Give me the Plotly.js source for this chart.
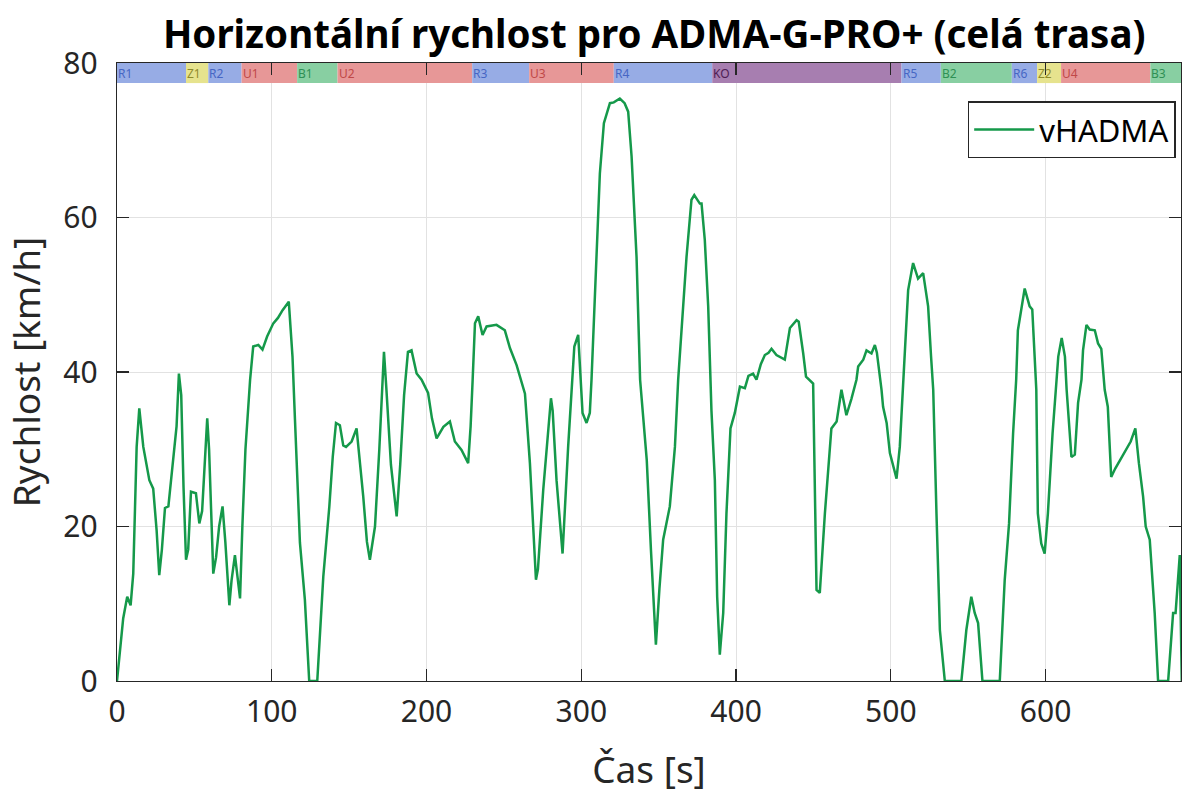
<!DOCTYPE html>
<html>
<head>
<meta charset="utf-8">
<script src="https://cdn.plot.ly/plotly-3.0.1.min.js"></script>
<style>html,body{margin:0;padding:0;background:#fff;}#chart{width:1183px;height:794px;}</style>
</head>
<body>
<div id="chart"></div>
<script>
// time [s]
const timeS = [0,4,6.6,8.8,10.5,12.7,14.4,17,20.9,23.4,25.6,27.3,29,31,33.2,36,38.5,40,41.5,43,44.6,46,47.8,51,53.2,55,57,58.3,59.5,61,62.2,64,66,68.2,70,72.6,74,76.2,77.5,79.5,81,83,86,88,91.3,94,97,101,104,107,111,113.4,115,118.2,121.4,124.2,129.4,133.3,137.2,139.4,141.5,144,146.2,148,151.6,154.8,159.1,161.5,163.4,166.7,169.5,172.5,174,177,180.7,183,185.5,188,190.3,193.6,196.8,200,201,203.5,206.5,210.9,215.1,218.3,222.6,226.9,228.5,229.8,231.3,233.4,236.2,238.8,245.2,250.6,253.9,258.2,262.5,263.6,266.8,270.7,272,275.4,280.4,281.5,284,287.9,291.5,294.4,295.5,298,300.2,300.8,303.4,305.5,306.6,309,312,314.6,318.5,321,324.9,328,330.3,332.5,335.7,338,342.3,345,348.2,350.5,352.9,357.2,360.5,362.6,365.5,368,371.2,373,376.6,377.7,379.8,382,384.1,386.3,387.8,389.5,391.7,393.8,396.4,399.2,402.5,405.7,408,411,413.2,416,418.6,421,422.9,426.1,431.5,434.8,439.1,440.5,443.4,445.2,449.8,450.9,452,454.1,457.4,461.6,465,468.1,471.3,474.5,477.8,478.9,482.2,484.3,487.5,489.7,491,494,495,497.3,499.4,502,503.7,505.8,508,511.2,514.4,517.6,520.9,524.1,526,527.4,529.5,531.7,534.9,545.6,548.8,552,554.2,556.4,559.2,570.4,573.6,576.4,579,581,582.1,586.5,589.7,591.4,594,595,597.2,599.4,601.5,604.5,607.1,608.2,610.4,612.5,613.6,615.6,616.7,618.9,621,623.2,624.2,626.4,628.5,631.8,633.9,636,638.2,640.2,642.4,645,650,655,658,660.3,663,664.7,667.3,670.5,672.7,679.2,682.4,684,686.7,688];
// horizontal speed [km/h]
const vHADMA = [0,8.1,10.9,9.8,13.9,30.3,35.3,30.3,26,24.9,19.5,13.7,17,22.4,22.6,28.6,33,39.8,37,25,15.7,17,24.5,24.3,20.4,22,30,34,30,20,13.9,16,20,22.6,18,9.8,13,16.3,14,10.7,20,30,39,43.3,43.5,42.9,44.6,46.3,47,48,49.1,42,33.8,17.9,10.5,0,0,13.5,22.6,29,33.4,33.1,30.5,30.3,31,32.7,23.9,18,15.7,20,30,42.6,38,28,21.3,28,37,42.6,42.8,39.8,39,37.7,37.3,34,31.4,32.9,33.6,31,29.9,28.2,33,39,46.3,47.2,44.8,45.9,46.1,45.4,43.1,40.9,37.9,37.2,28.2,13.1,14.5,24.7,36.6,35,26,16.5,30.3,39,43.3,44.8,37.7,34.7,33.4,34.7,39,50,65.7,72.2,74.8,74.9,75.4,74.8,73.7,67.9,54.9,39,28.6,17,4.7,12,18.3,22.6,30.3,39,48,54.9,62.3,62.9,61.8,61.8,57.1,48.5,35,26,10.9,3.4,8.8,21.7,32.7,34.7,38.1,37.9,39.5,39.8,39,41,42.2,42.5,43,42.2,41.6,45.7,46.7,46.5,42.4,39.4,38.5,21.7,11.8,11.4,21.7,32.7,33.6,37.7,34.4,36.5,39,40.7,41.6,42.8,42.4,43.5,42.5,37.7,35.5,33.4,29.5,27.5,26.2,30.3,39,50.6,54.1,52.1,52.8,48.5,42,37.7,21.7,6.6,0,0,6.6,10.9,8.8,7.5,0,0,13.1,20.4,32,39,45.4,50.8,48.5,48.1,37.7,21.7,17.8,16.5,21.7,32,39,42,44.4,42,37.7,32.1,29,29.3,36,39,42.8,46.1,45.5,45.4,43.7,43,37.7,35.5,26.4,27.5,29.3,31,32.7,28.2,23.9,20,18.3,8.8,0,0,8.8,8.8,16.3,0];

// route segments
const segLabels = ["R1","Z1","R2","U1","B1","U2","R3","U3","R4","KO","R5","B2","R6","Z2","U4","B3"];
const segStart  = [0,44.6,59,80.5,116.4,142.5,229.5,266.3,321,384.6,506.9,532.3,578.2,594.5,610,667.7];
const segEnd    = [44.6,59,80.5,116.4,142.5,229.5,266.3,321,384.6,506.9,532.3,578.2,594.5,610,667.7,690];

const xTicks = [0,100,200,300,400,500,600];
const yTicks = [0,20,40,60,80];

const fillByType = {R:"#97acE5", Z:"#e6e38e", U:"#e79797", B:"#88cfa2", K:"#a77eb0"};
const textByType = {R:"#4666c4", Z:"#8f8a2a", U:"#c04848", B:"#2f8f55", K:"#4e1d55"};

const FONT = "Noto Sans, Open Sans, sans-serif";
const bandLow = 77.4, bandHigh = 80;
const shapes = segLabels.map((lab, i) => ({
  type: "rect", xref: "x", yref: "y", layer: "between",
  x0: segStart[i], x1: segEnd[i], y0: bandLow, y1: bandHigh,
  fillcolor: fillByType[lab[0]], line: {width: 0}
}));
const annotations = segLabels.map((lab, i) => ({
  xref: "x", yref: "y", x: segStart[i], y: (bandLow + bandHigh) / 2,
  xanchor: "left", yanchor: "middle", xshift: -1, showarrow: false,
  text: lab, font: {family: FONT, size: 12, color: textByType[lab[0]]}
}));

const axisCommon = {
  showline: true, linecolor: "#262626", linewidth: 1.3, mirror: "ticks",
  ticks: "inside", ticklen: 12, tickwidth: 1.3, tickcolor: "#262626",
  gridcolor: "#e2e2e2", gridwidth: 1, zeroline: false,
  tickfont: {family: FONT, size: 30, color: "#262626"}
};

const trace = {
  x: timeS, y: vHADMA, type: "scatter", mode: "lines", name: "vHADMA",
  line: {color: "#15994a", width: 2.5}
};

const layout = {
  width: 1183, height: 794,
  margin: {l: 117, r: 2, t: 63, b: 113},
  paper_bgcolor: "#ffffff", plot_bgcolor: "#ffffff",
  font: {family: FONT, color: "#262626"},
  title: {
    text: "<b>Horizontální rychlost pro ADMA-G-PRO+ (celá trasa)</b>",
    font: {family: FONT, size: 38.5, color: "#000000"},
    x: 0.553, xanchor: "center", y: 0.956, yanchor: "middle"
  },
  xaxis: Object.assign({}, axisCommon, {
    range: [0, 687.5], tickvals: xTicks, ticktext: xTicks.map(String),
    ticklabelstandoff: 4,
    title: {text: "Čas [s]", font: {family: FONT, size: 37, color: "#262626"}, standoff: 26}
  }),
  yaxis: Object.assign({}, axisCommon, {
    range: [0, 80], tickvals: yTicks, ticktext: yTicks.map(String),
    ticklabelstandoff: 12,
    title: {text: "Rychlost [km/h]", font: {family: FONT, size: 37, color: "#262626"}, standoff: 14}
  }),
  showlegend: true,
  legend: {
    x: 0.995, xanchor: "right", y: 0.938, yanchor: "top",
    bgcolor: "#ffffff", bordercolor: "#262626", borderwidth: 1.5,
    font: {family: FONT, size: 31, color: "#000000"},
    itemwidth: 60
  },
  shapes: shapes,
  annotations: annotations
};

Plotly.newPlot("chart", [trace], layout, {displayModeBar: false, staticPlot: true});
</script>
</body>
</html>
